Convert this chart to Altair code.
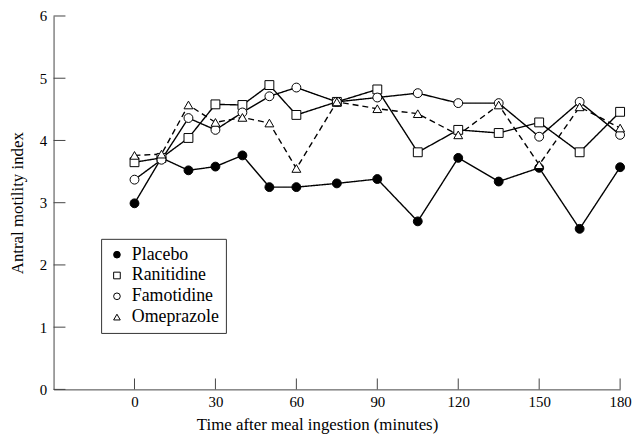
import altair as alt
import pandas as pd

times = [0, 10, 20, 30, 40, 50, 60, 75, 90, 105, 120, 135, 150, 165, 180]
series_names = ["Placebo", "Ranitidine", "Famotidine", "Omeprazole"]
line_styles = ["solid", "solid", "solid", "dashed"]
placebo = [2.99, 3.72, 3.52, 3.58, 3.76, 3.25, 3.25, 3.31, 3.38, 2.70, 3.72, 3.34, 3.56, 2.58, 3.57]
ranitidine = [3.65, 3.72, 4.04, 4.58, 4.57, 4.89, 4.41, 4.62, 4.82, 3.81, 4.17, 4.12, 4.29, 3.81, 4.46]
famotidine = [3.37, 3.69, 4.36, 4.17, 4.45, 4.71, 4.85, 4.62, 4.69, 4.76, 4.60, 4.60, 4.06, 4.62, 4.09]
omeprazole = [3.76, 3.78, 4.57, 4.29, 4.37, 4.28, 3.55, 4.62, 4.51, 4.43, 4.09, 4.57, 3.61, 4.54, 4.20]
x_ticks = [0, 30, 60, 90, 120, 150, 180]
y_ticks = [0, 1, 2, 3, 4, 5, 6]

rows = []
for name, style, vals in zip(series_names, line_styles,
                             [placebo, ranitidine, famotidine, omeprazole]):
    for t, v in zip(times, vals):
        rows.append({"series": name, "style": style, "time": t, "value": v})
df = pd.DataFrame(rows)

W, H = 572, 377
FONT = "Liberation Serif"

xscale = alt.Scale(domain=[-30, 180], nice=False, zero=False)
yscale = alt.Scale(domain=[0, 6], nice=False)

xaxis = alt.Axis(values=x_ticks, ticks=False, grid=False, labelPadding=5, format="d",
                 title="Time after meal ingestion (minutes)", titleX=266,
                 titlePadding=7)
yaxis = alt.Axis(values=y_ticks, ticks=False, grid=False, labelPadding=7, format="d",
                 title="Antral motility index", titleX=-31, titleBaseline="alphabetic")

dash_scale = alt.Scale(domain=["solid", "dashed"], range=[[1, 0], [6, 4]])
shape_scale = alt.Scale(domain=series_names, range=["circle", "square", "circle", "triangle-up"])
fill_scale = alt.Scale(domain=series_names, range=["black", "white", "white", "white"])
stroke_scale = alt.Scale(domain=series_names, range=["black", "black", "black", "black"])


def make_legend():
    return alt.Legend(orient="none", legendX=48, legendY=225,
                      symbolStrokeColor="black", symbolStrokeWidth=1, symbolOpacity=1)


base = alt.Chart(df)

lines = base.mark_line(color="black", strokeWidth=1.4).encode(
    x=alt.X("time:Q", scale=xscale, axis=xaxis),
    y=alt.Y("value:Q", scale=yscale, axis=yaxis),
    detail="series:N",
    strokeDash=alt.StrokeDash("style:N", scale=dash_scale, legend=None),
)

points = base.mark_point(strokeWidth=1, size=80, opacity=1).encode(
    x=alt.X("time:Q", scale=xscale),
    y=alt.Y("value:Q", scale=yscale),
    shape=alt.Shape("series:N", scale=shape_scale, legend=make_legend()),
    fill=alt.Fill("series:N", scale=fill_scale, legend=make_legend()),
    stroke=alt.Stroke("series:N", scale=stroke_scale, legend=make_legend()),
)

xtick_df = pd.DataFrame({"t": x_ticks})
ytick_df = pd.DataFrame({"v": y_ticks})
xtick_rules = alt.Chart(xtick_df).mark_rule(color="#444", strokeWidth=1).encode(
    x=alt.X("t:Q", scale=xscale),
    y=alt.value(H), y2=alt.value(H - 11),
)
ytick_rules = alt.Chart(ytick_df).mark_rule(color="#444", strokeWidth=1).encode(
    y=alt.Y("v:Q", scale=yscale),
    x=alt.value(0), x2=alt.value(12),
)

chart = alt.layer(xtick_rules, ytick_rules, lines, points).properties(
    width=W, height=H,
    autosize=alt.AutoSizeParams(type="none"),
    padding={"left": 46, "top": 6, "right": 12, "bottom": 46},
).configure_view(stroke=None).configure_axis(
    labelFont=FONT, titleFont=FONT, labelFontSize=15, titleFontSize=17,
    titleFontWeight="normal", labelColor="black", titleColor="black",
    domainColor="#444", domainWidth=1,
).configure_axisX(labelFlush=False).configure_legend(
    title=None, padding=7, rowPadding=3, strokeColor="#333",
    fillColor="white", labelFont=FONT, labelFontSize=18,
    labelColor="black", symbolSize=45, symbolStrokeColor="black",
    symbolStrokeWidth=1, labelOffset=6, symbolOpacity=1,
)

chart.save("out.html", embed_options={"renderer": "svg", "actions": False})
